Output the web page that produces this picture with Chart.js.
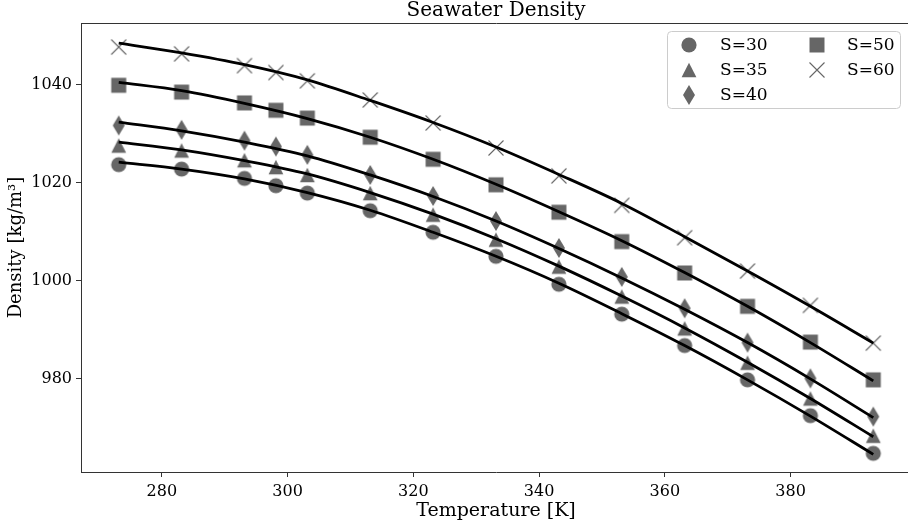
<!DOCTYPE html>
<html>
<head>
<meta charset="utf-8">
<script src="https://cdn.jsdelivr.net/npm/chart.js@4.4.1/dist/chart.umd.min.js"></script>
<style>
  html, body { margin: 0; padding: 0; overflow: hidden; background: #fff; width: 908px; height: 527px; }
  #wrap { width: 908px; height: 527px; overflow: hidden; position: relative; }
  canvas { display: block; }
</style>
</head>
<body>
<div id="wrap"><canvas id="chart" width="920" height="527"></canvas></div>
<script>
'use strict';
// measured points (temperature in K, density in kg/m3)
var temps = [273.15, 283.15, 293.15, 298.15, 303.15, 313.15, 323.15, 333.15, 343.15, 353.15, 363.15, 373.15, 383.15, 393.15];
var rhoS30 = [1023.7, 1022.8, 1020.9, 1019.4, 1017.9, 1014.3, 1009.9, 1005.0, 999.3, 993.2, 986.8, 979.8, 972.5, 964.8];
var rhoS35 = [1027.6, 1026.6, 1024.6, 1023.2, 1021.6, 1017.9, 1013.5, 1008.4, 1002.9, 996.8, 990.3, 983.3, 976.0, 968.4];
var rhoS40 = [1031.7, 1030.8, 1028.6, 1027.4, 1025.7, 1021.6, 1017.3, 1012.2, 1006.7, 1000.8, 994.4, 987.4, 980.1, 972.3];
var rhoS50 = [1039.9, 1038.5, 1036.3, 1034.8, 1033.2, 1029.3, 1024.8, 1019.6, 1014.0, 1008.0, 1001.6, 994.8, 987.5, 979.8];
var rhoS60 = [1047.7, 1046.3, 1043.9, 1042.5, 1040.8, 1036.9, 1032.2, 1027.1, 1021.4, 1015.4, 1008.8, 1002.0, 995.0, 987.3];

// fitted curves
var fitTemps = [273.15, 283.15, 293.15, 303.15, 313.15, 323.15, 333.15, 343.15, 353.15, 363.15, 373.15, 383.15, 393.15];
var fitS30 = [1024.2, 1022.8, 1020.8, 1018.0, 1014.4, 1009.9, 1005.0, 999.5, 993.3, 986.8, 979.8, 972.4, 964.6];
var fitS35 = [1028.3, 1026.7, 1024.5, 1021.8, 1018.0, 1013.6, 1008.6, 1003.0, 996.9, 990.4, 983.4, 976.0, 968.2];
var fitS40 = [1032.4, 1030.6, 1028.3, 1025.5, 1021.6, 1017.2, 1012.2, 1006.6, 1000.6, 994.2, 987.4, 980.0, 972.1];
var fitS50 = [1040.5, 1038.8, 1036.2, 1033.1, 1029.3, 1024.8, 1019.7, 1014.1, 1008.2, 1001.7, 994.8, 987.4, 979.6];
var fitS60 = [1048.5, 1046.5, 1044.1, 1041.0, 1036.8, 1032.3, 1027.3, 1021.7, 1015.8, 1009.0, 1002.0, 994.8, 987.3];

var seriesLabels = ['S=30', 'S=35', 'S=40', 'S=50', 'S=60'];
var xTicks = [280, 300, 320, 340, 360, 380];
var yTicks = [980, 1000, 1020, 1040];

var pointSeries = [rhoS30, rhoS35, rhoS40, rhoS50, rhoS60];
var fitSeries = [fitS30, fitS35, fitS40, fitS50, fitS60];
var markerKinds = ['circle', 'triangle', 'diamond', 'square', 'cross'];

var gray = '#666666';
var serif = "'DejaVu Serif', serif";

//matplotlib-like marker images
function makeMarker(kind) {
  var c = document.createElement('canvas');
  c.width = 24;
  c.height = 24;
  var ctx = c.getContext('2d');
  ctx.translate(12, 12);
  ctx.fillStyle = gray;
  ctx.strokeStyle = gray;
  ctx.beginPath();
  if (kind === 'circle') {
    ctx.arc(0, 0, 7.6, 0, Math.PI * 2);
    ctx.fill();
  } else if (kind === 'triangle') {
    ctx.moveTo(0, -7.3);
    ctx.lineTo(7.4, 7.3);
    ctx.lineTo(-7.4, 7.3);
    ctx.closePath();
    ctx.fill();
  } else if (kind === 'diamond') {
    ctx.moveTo(0, -10);
    ctx.lineTo(6, 0);
    ctx.lineTo(0, 10);
    ctx.lineTo(-6, 0);
    ctx.closePath();
    ctx.fill();
  } else if (kind === 'square') {
    ctx.rect(-7.5, -7.5, 15, 15);
    ctx.fill();
  } else {
    ctx.lineWidth = 1.1;
    ctx.moveTo(-7.5, -7.5);
    ctx.lineTo(7.5, 7.5);
    ctx.moveTo(7.5, -7.5);
    ctx.lineTo(-7.5, 7.5);
    ctx.stroke();
  }
  return c;
}
var markerImages = markerKinds.map(makeMarker);

function toPoints(xs, ys) {
  return xs.map(function(x, i) { return {x: x, y: ys[i]}; });
}

var datasets = [];
for (var i = 0; i < seriesLabels.length; i++) {
  datasets.push({
    type: 'line',
    label: seriesLabels[i] + ' fit',
    data: toPoints(fitTemps, fitSeries[i]),
    borderColor: '#000',
    borderWidth: 2.8,
    pointRadius: 0,
    fill: false,
    cubicInterpolationMode: 'monotone',
    order: 0
  });
}
for (var j = 0; j < seriesLabels.length; j++) {
  datasets.push({
    type: 'scatter',
    label: seriesLabels[j],
    data: toPoints(temps, pointSeries[j]),
    pointStyle: markerImages[j],
    pointRadius: 8,
    order: 1
  });
}

// legend in two columns, drawn inside the plot
var legendPlugin = {
  id: 'boxLegend',
  afterDraw: function(chart) {
    var ctx = chart.ctx;
    ctx.save();
    ctx.beginPath();
    ctx.roundRect(667.5, 31.5, 233, 77, 4);
    ctx.fillStyle = 'rgba(255,255,255,0.8)';
    ctx.fill();
    ctx.strokeStyle = '#cccccc';
    ctx.lineWidth = 1;
    ctx.stroke();
    ctx.font = '17px ' + serif;
    ctx.fillStyle = '#000';
    ctx.textBaseline = 'middle';
    for (var k = 0; k < seriesLabels.length; k++) {
      var col = k < 3 ? 0 : 1;
      var row = k < 3 ? k : k - 3;
      var mx = col === 0 ? 689 : 817;
      var tx = col === 0 ? 720 : 847;
      var my = 45 + row * 25;
      ctx.drawImage(markerImages[k], mx - 12, my - 12);
      ctx.fillText(seriesLabels[k], tx, my + 1);
    }
    ctx.restore();
  }
};

var ctx = document.getElementById('chart').getContext('2d');
new Chart(ctx, {
  type: 'scatter',
  data: {datasets: datasets},
  options: {
    responsive: false,
    animation: false,
    // the canvas is wider than the page so the right spine falls outside, as in the original
    layout: {padding: {left: 0, right: 0, top: 0, bottom: 0}},
    plugins: {
      legend: {display: false},
      tooltip: {enabled: false},
      title: {display: false}
    },
    scales: {
      x: {
        type: 'linear',
        position: 'bottom',
        min: 267.15,
        max: 399.15,
        afterBuildTicks: function(s) { s.ticks = xTicks.map(function(v) { return {value: v}; }); },
        afterFit: function(s) { s.height = 55; },
        grid: {drawOnChartArea: false, drawTicks: true, tickLength: 5, color: '#333'},
        border: {color: '#333', width: 1},
        ticks: {font: {family: serif, size: 16}, color: '#000', padding: 5, maxRotation: 0, autoSkip: false,
          callback: function(v) { return String(v); }},
        title: {display: true, text: 'Temperature [K]', font: {family: serif, size: 19}, color: '#000', padding: {top: 0, bottom: 5}}
      },
      x2: {
        type: 'linear',
        position: 'top',
        min: 267.15,
        max: 399.15,
        afterFit: function(s) { s.height = 23; },
        grid: {display: false},
        border: {display: true, color: '#333', width: 1},
        ticks: {display: false},
        title: {display: true, text: 'Seawater Density', font: {family: serif, size: 20}, color: '#000', padding: {top: -1, bottom: 0}}
      },
      y: {
        type: 'linear',
        min: 961.0,
        max: 1052.6,
        afterBuildTicks: function(s) { s.ticks = yTicks.map(function(v) { return {value: v}; }); },
        afterFit: function(s) { s.width = 81; },
        grid: {drawOnChartArea: false, drawTicks: true, tickLength: 5, color: '#333'},
        border: {color: '#333', width: 1},
        ticks: {font: {family: serif, size: 16}, color: '#000', padding: 4,
          callback: function(v) { return String(v); }},
        title: {display: true, text: 'Density [kg/m³]', font: {family: serif, size: 18}, color: '#000', padding: {top: 6, bottom: 0}}
      }
    }
  },
  plugins: [legendPlugin]
});
</script>
</body>
</html>
